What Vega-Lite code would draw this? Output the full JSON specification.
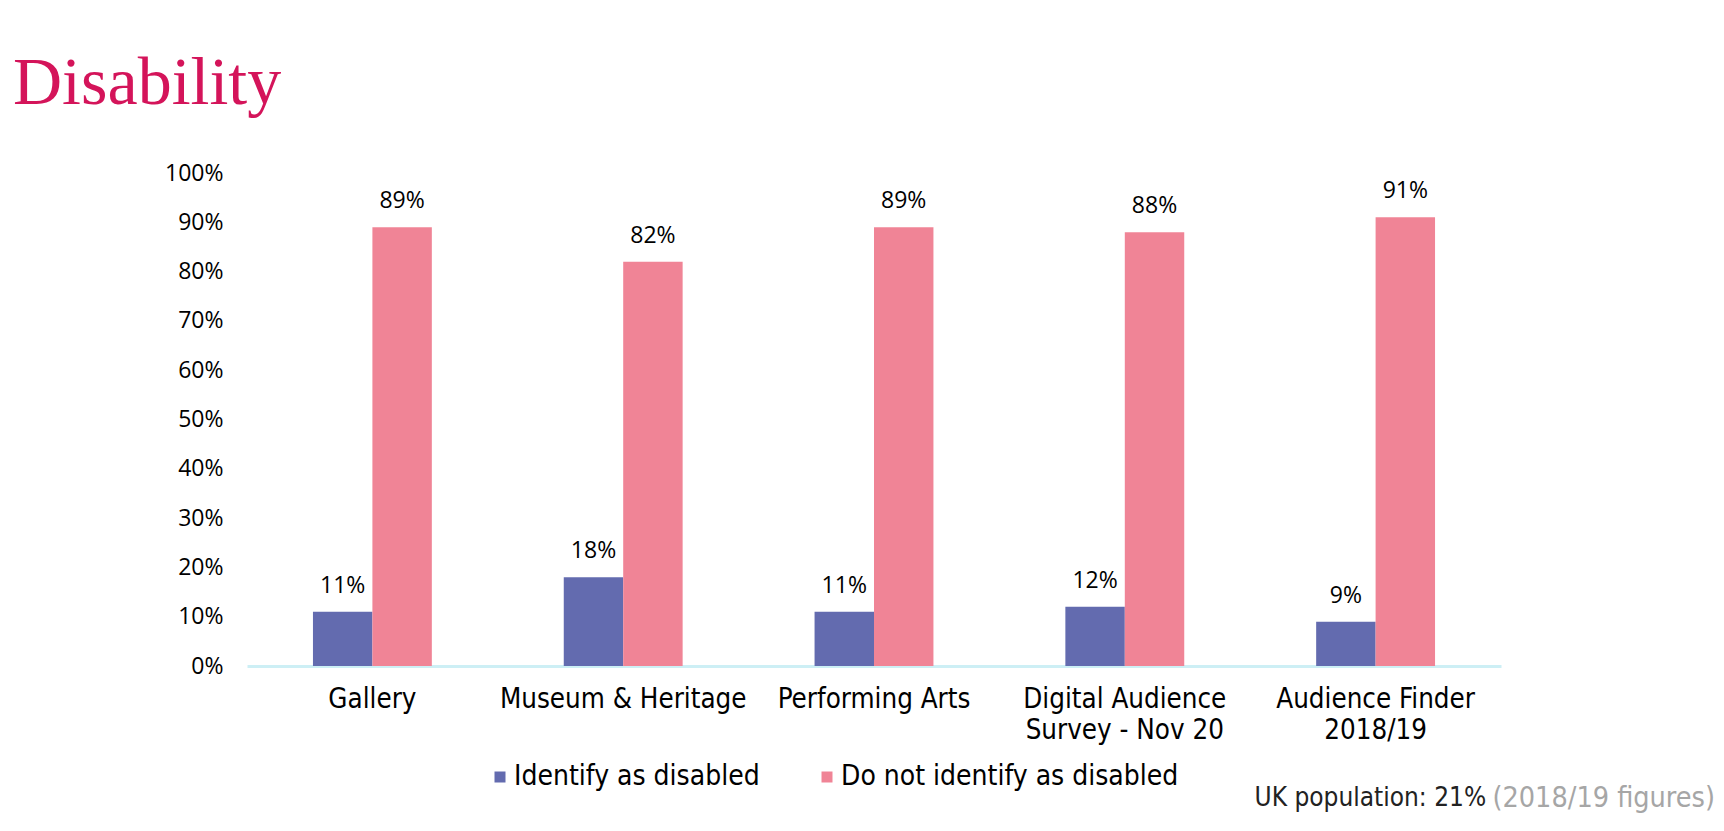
{
  "$schema": "https://vega.github.io/schema/vega-lite/v6.json",
  "autosize": "none",
  "width": 1254,
  "height": 493,
  "padding": {"left": 247, "top": 173, "right": 223, "bottom": 165},
  "background": "white",
  "title": {
    "text": "Disability",
    "anchor": "start",
    "frame": "group",
    "orient": "top",
    "font": "Liberation Serif",
    "fontSize": 68,
    "fontWeight": "normal",
    "color": "#D4145A",
    "baseline": "alphabetic",
    "offset": 56,
    "dx": -234,
    "dy": 66
  },
  "data": {
    "values": [
      {"category": "Gallery", "group": "Identify as disabled", "value": 0.11},
      {"category": "Gallery", "group": "Do not identify as disabled", "value": 0.89},
      {"category": "Museum & Heritage", "group": "Identify as disabled", "value": 0.18},
      {"category": "Museum & Heritage", "group": "Do not identify as disabled", "value": 0.82},
      {"category": "Performing Arts", "group": "Identify as disabled", "value": 0.11},
      {"category": "Performing Arts", "group": "Do not identify as disabled", "value": 0.89},
      {"category": "Digital Audience|Survey - Nov 20", "group": "Identify as disabled", "value": 0.12},
      {"category": "Digital Audience|Survey - Nov 20", "group": "Do not identify as disabled", "value": 0.88},
      {"category": "Audience Finder|2018/19", "group": "Identify as disabled", "value": 0.09},
      {"category": "Audience Finder|2018/19", "group": "Do not identify as disabled", "value": 0.91}
    ]
  },
  "encoding": {
    "x": {
      "field": "category",
      "type": "nominal",
      "sort": null,
      "scale": {"paddingInner": 0.526, "paddingOuter": 0.263},
      "axis": {
        "title": "(2018/19 figures)",
        "titleColor": "#A6A6A6",
        "titleFont": "DejaVu Sans Condensed",
        "titleFontSize": 28.5,
        "titleFontWeight": "normal",
        "titleAlign": "left",
        "titleAnchor": null,
        "titleBaseline": "alphabetic",
        "titleX": 1245,
        "titleY": 140,
        "labelExpr": "split(datum.label, '|')",
        "labelAngle": 0,
        "labelFont": "DejaVu Sans Condensed",
        "labelFontSize": 27.5,
        "labelColor": "#000000",
        "labelLineHeight": 31,
        "labelPadding": 19,
        "labelLimit": 0,
        "labelOverlap": false,
        "labelBaseline": "top",
        "ticks": false,
        "domainColor": "#CDEFF5",
        "domainWidth": 3
      }
    },
    "xOffset": {
      "field": "group",
      "type": "nominal",
      "sort": ["Identify as disabled", "Do not identify as disabled"],
      "scale": {"paddingInner": 0, "paddingOuter": 0}
    },
    "y": {
      "field": "value",
      "type": "quantitative",
      "scale": {"domain": [0, 1], "nice": false},
      "axis": {
        "title": "UK population: 21%",
        "titleColor": "#222222",
        "titleFont": "DejaVu Sans Condensed",
        "titleFontSize": 26,
        "titleFontWeight": "normal",
        "titleAngle": 0,
        "titleAlign": "left",
        "titleAnchor": null,
        "titleBaseline": "alphabetic",
        "titleX": 1007,
        "titleY": 632,
        "format": ".0%",
        "values": [0, 0.1, 0.2, 0.3, 0.4, 0.5, 0.6, 0.7, 0.8, 0.9, 1],
        "grid": false,
        "domain": false,
        "ticks": false,
        "labelFont": "Open Sans",
        "labelFontSize": 23,
        "labelColor": "#000000",
        "labelPadding": 24
      }
    },
    "color": {
      "field": "group",
      "type": "nominal",
      "scale": {
        "domain": ["Identify as disabled", "Do not identify as disabled"],
        "range": ["#636BAF", "#F08496"]
      },
      "legend": {
        "title": null,
        "orient": "none",
        "direction": "horizontal",
        "legendX": 239,
        "legendY": 590,
        "symbolType": "square",
        "symbolSize": 121,
        "symbolStrokeWidth": 0,
        "labelFont": "DejaVu Sans Condensed",
        "labelFontSize": 28,
        "labelColor": "#000000",
        "labelOffset": 0,
        "labelLimit": 0,
        "columnPadding": 53
      }
    }
  },
  "layer": [
    {"mark": {"type": "bar"}},
    {
      "mark": {
        "type": "text",
        "baseline": "bottom",
        "dy": -14,
        "font": "Open Sans",
        "fontSize": 23,
        "color": "#000000"
      },
      "encoding": {
        "text": {"field": "value", "type": "quantitative", "format": ".0%"},
        "color": {"value": "#000000"}
      }
    }
  ],
  "config": {"view": {"stroke": null}}
}
